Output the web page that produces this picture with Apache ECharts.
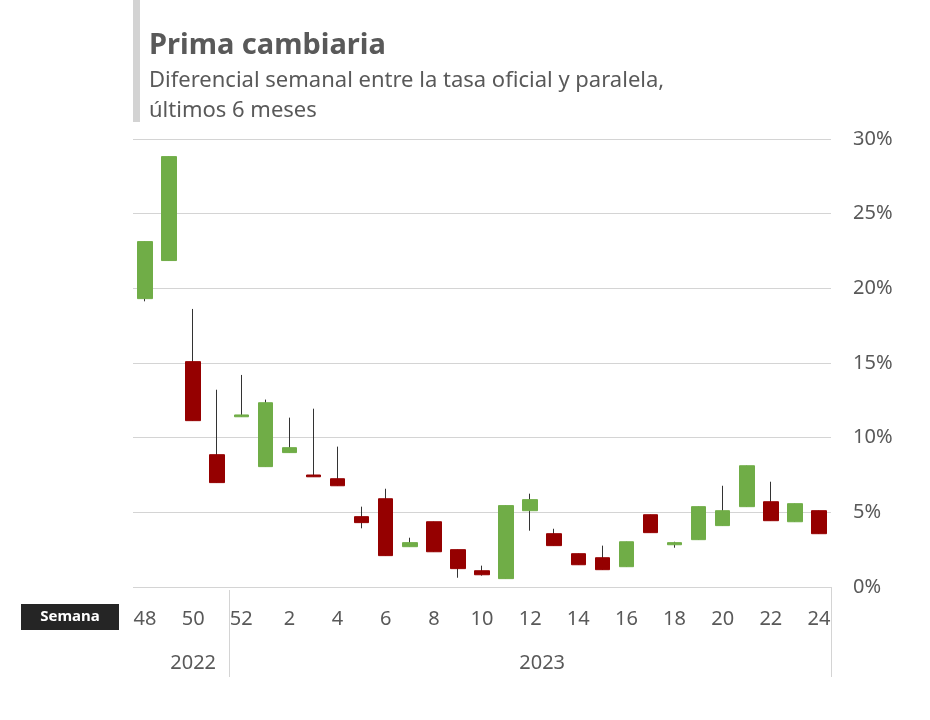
<!DOCTYPE html>
<html>
<head>
<meta charset="utf-8">
<script src="https://cdn.jsdelivr.net/npm/echarts@6/dist/echarts.min.js"></script>
<style>
html,body{margin:0;padding:0;background:#fff;}
#main{width:930px;height:720px;}
</style>
</head>
<body>
<div id="main"></div>
<script>
var weeks = ['48','49','50','51','52','1','2','3','4','5','6','7','8','9','10','11','12','13','14','15','16','17','18','19','20','21','22','23','24'];
var openV  = [19.31,21.86,15.09,8.86,11.40,8.06,9.00,7.50,7.25,4.71,5.91,2.70,4.37,2.50,1.09,0.56,5.11,3.57,2.23,1.96,1.36,4.84,2.83,3.17,4.11,5.38,5.71,4.37,5.11];
var closeV = [23.13,28.82,11.14,6.99,11.52,12.34,9.33,7.38,6.78,4.31,2.10,2.97,2.36,1.23,0.82,5.45,5.85,2.77,1.49,1.16,3.03,3.64,2.97,5.38,5.11,8.12,4.44,5.58,3.57];
var lowV   = [19.13,21.86,11.14,6.99,11.40,8.06,9.00,7.38,6.78,3.93,2.10,2.70,2.36,0.62,0.76,0.56,3.77,2.77,1.49,1.16,1.36,3.64,2.63,3.17,4.11,5.38,4.44,4.37,3.57];
var highV  = [23.13,28.82,18.62,13.21,14.20,12.55,11.34,11.94,9.40,5.38,6.58,3.30,4.37,2.50,1.43,5.45,6.25,3.90,2.23,2.77,3.03,4.84,3.03,5.38,6.78,8.12,7.05,5.58,5.11];
var yearLabels = ['2022','2023'];
var titleText = 'Prima cambiaria';
var subText = 'Diferencial semanal entre la tasa oficial y paralela,\núltimos 6 meses';

var FONT = '"Noto Sans", "Open Sans", sans-serif';
var GREEN = '#70AD47', RED = '#950000', GRAY = '#595959';

var wickData = weeks.map(function(w,i){ return [openV[i], closeV[i], lowV[i], highV[i]]; });
var bodyData = weeks.map(function(w,i){
  return [openV[i], closeV[i], Math.min(openV[i],closeV[i]), Math.max(openV[i],closeV[i])];
});

var chart = echarts.init(document.getElementById('main'), null, {renderer:'canvas'});
var option = {
  animation:false,
  backgroundColor:'#fff',
  title:{
    text:titleText, subtext:subText, left:144, top:26, itemGap:6,
    textStyle:{fontFamily:FONT, fontSize:29, fontWeight:'bold', color:GRAY},
    subtextStyle:{fontFamily:FONT, fontSize:22, color:GRAY, lineHeight:30}
  },
  grid:{left:133, right:99, top:139, bottom:133},
  xAxis:{
    type:'category', data:weeks, boundaryGap:true,
    axisLine:{show:false}, axisTick:{show:false},
    axisLabel:{interval:1, margin:22, fontFamily:FONT, fontSize:20, color:GRAY},
    splitLine:{show:false}
  },
  yAxis:{
    type:'value', position:'right', min:0, max:30, interval:5,
    axisLine:{show:false}, axisTick:{show:false},
    axisLabel:{formatter:'{value}%', margin:22, fontFamily:FONT, fontSize:20, color:GRAY},
    splitLine:{lineStyle:{color:'#d4d4d4', width:1}}
  },
  series:[
    {type:'candlestick', data:wickData, barWidth:1,
     itemStyle:{color:'#333', color0:'#333', borderColor:'#333', borderColor0:'#333', borderWidth:1}},
    {type:'candlestick', data:bodyData, barWidth:15,
     itemStyle:{color:GREEN, color0:RED, borderColor:GREEN, borderColor0:RED, borderWidth:1}}
  ]
};
chart.setOption(option);

function px(i){ return chart.convertToPixel({xAxisIndex:0}, i); }
var x3 = px(3), x4 = px(4), xl = px(weeks.length-1);
var band = x4 - x3;
var sepX = Math.round((x3 + x4)/2) + 0.5;
var rightX = Math.round(xl + band/2) + 0.5;
var yZero = chart.convertToPixel({yAxisIndex:0}, 0);
var x2022 = px(2);
var x2023 = (px(16) + px(17))/2;

chart.setOption({
  graphic:[
    {type:'rect', shape:{x:133, y:0, width:7, height:122}, style:{fill:'#d3d3d3'}},
    {type:'rect', shape:{x:21, y:604, width:98, height:26}, style:{fill:'#252525'}},
    {type:'text', x:70, y:617, style:{text:'Semana', fill:'#fff', font:'bold 15px ' + FONT, textAlign:'center', textVerticalAlign:'middle'}},
    {type:'line', shape:{x1:sepX, y1:yZero+3, x2:sepX, y2:677}, style:{stroke:'#d4d4d4', lineWidth:1}},
    {type:'line', shape:{x1:rightX, y1:yZero, x2:rightX, y2:677}, style:{stroke:'#d4d4d4', lineWidth:1}},
    {type:'text', x:x2022, y:663, style:{text:yearLabels[0], fill:GRAY, font:'20px ' + FONT, textAlign:'center', textVerticalAlign:'middle'}},
    {type:'text', x:x2023, y:663, style:{text:yearLabels[1], fill:GRAY, font:'20px ' + FONT, textAlign:'center', textVerticalAlign:'middle'}}
  ]
});
</script>
</body>
</html>
